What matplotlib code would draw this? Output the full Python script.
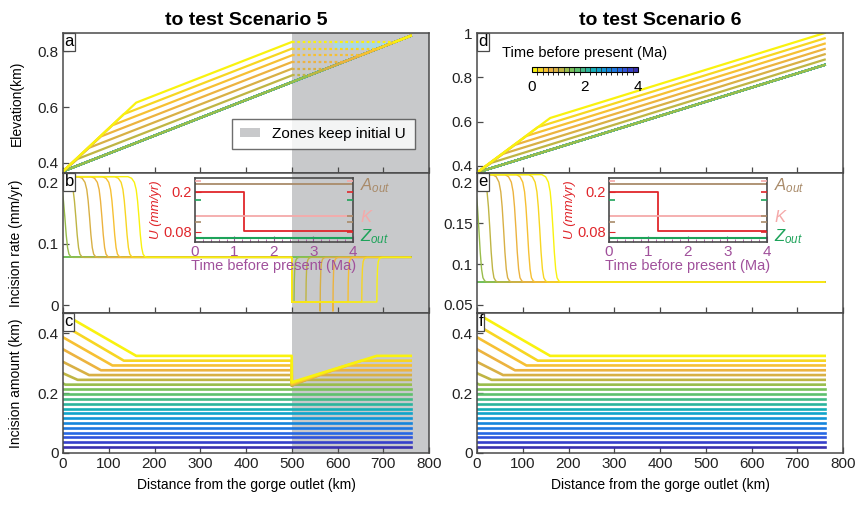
import numpy as np
import matplotlib
matplotlib.use("Agg")
import matplotlib.pyplot as plt
from matplotlib.colors import LinearSegmentedColormap, ListedColormap, BoundaryNorm
from matplotlib.cm import ScalarMappable
from matplotlib.patches import Patch

plt.rcParams['font.family'] = ['Liberation Sans', 'DejaVu Sans']
plt.rcParams['mathtext.fontset'] = 'custom'
plt.rcParams['mathtext.it'] = 'Liberation Sans:italic'
plt.rcParams['mathtext.rm'] = 'Liberation Sans'

# snapshot times (Ma before present), one profile per snapshot
times = [0.0, 0.2, 0.4, 0.6, 0.8, 1.0, 1.2, 1.4, 1.6, 1.8,
         2.0, 2.2, 2.4, 2.6, 2.8, 3.0, 3.2, 3.4, 3.6, 3.8]
# far-field incision amount (km) for every snapshot
far_incision = [0.324, 0.308, 0.292, 0.276, 0.260, 0.244, 0.228, 0.212, 0.196, 0.180,
                0.164, 0.148, 0.132, 0.116, 0.100, 0.084, 0.068, 0.052, 0.036, 0.020]

# the first 7 snapshots (after the U change at 1.25 Ma) carry a knickpoint
outlet_incision = [0.465, 0.427, 0.386, 0.346, 0.304, 0.266, 0.232]
knick_km = [160, 133, 108, 83, 57, 32, 5]
rate_drop_km = [166, 137, 110, 85, 58, 28, 4]
end_elev = [1.0, 0.976, 0.952, 0.928, 0.904, 0.880, 0.856]

outlet_elev = 0.37
initial_end_elev = 0.856
river_end_km = 760
rate_plateau = 0.21
rate_base = 0.078

# scenario 5: zone beyond 500 km keeps initial U
zone_start_km = 500
zone_refill_km = [686, 653, 623, 590, 562, 531, 505]
zone_low_incision = [0.236, 0.233, 0.231, 0.229, 0.227, 0.225, 0.224]
zone_flat_rate = 0.005
zone_dip_rate = [0.005, 0.005, 0.005, -0.010, -0.010, 0.005, 0.005]

# knickpoint shape in rate profile (km offset, fraction)
drop_dx = [-24, -16, -10, -6, -3, 0, 3, 6, 9, 13, 18]
drop_f = [1.0, 0.98, 0.93, 0.84, 0.70, 0.50, 0.28, 0.12, 0.04, 0.01, 0.0]
rise_dx = [0, 0.5, 1.5, 3, 5, 8, 12]
rise_f = [0, 0.45, 0.75, 0.9, 0.96, 0.99, 1.0]

# inset: uplift history and other parameters
U_time = [0, 1.25, 4]
U_val = [0.2, 0.083, 0.083]
A_out_level = 0.223
K_level = 0.126
Z_out_level = 0.060

# parula-like colours as seen in the figure (position, colour)
cmap = LinearSegmentedColormap.from_list("parula_like", [
    (0.00, "#352A87"), (0.05, "#3A30B0"), (0.12, "#3448D8"), (0.20, "#2668E4"),
    (0.30, "#1486DC"), (0.38, "#0FA0D2"), (0.45, "#14AEB8"), (0.52, "#33B694"),
    (0.60, "#5EC06D"), (0.68, "#88C14F"), (0.75, "#BDB544"), (0.82, "#E3AE45"),
    (0.88, "#F5B73A"), (0.95, "#F7D423"), (1.00, "#F9F20F")])

GRAY = "#C8C9CB"
FRAME = "#4a4a4a"
PURPLE = "#A0509B"
RED = "#E0262B"
BROWN = "#A98B6A"
PINK = "#F5A9A9"
GREEN = "#1EA35A"


def tcolor(t):
    return cmap(1 - t / 4.0)


n_recent = len(outlet_incision)
slope = (initial_end_elev - outlet_elev) / river_end_km
order = list(range(len(times)))[::-1]   # oldest drawn first, newest on top


def draw_elev(ax, zone):
    for i in order:
        c = tcolor(times[i])
        if i >= n_recent:
            ax.plot([0, river_end_km], [outlet_elev, initial_end_elev], color=c, lw=1.6)
            continue
        kp = knick_km[i]
        ek = end_elev[i] - slope * (river_end_km - kp)
        if not zone:
            ax.plot([0, kp, river_end_km], [outlet_elev, ek, end_elev[i]], color=c, lw=1.6)
            continue
        e500 = end_elev[i] - slope * (river_end_km - zone_start_km)
        x_int = (e500 - outlet_elev) / slope
        ax.plot([0, kp, zone_start_km], [outlet_elev, ek, e500], color=c, lw=1.6)
        ax.plot([x_int, river_end_km], [e500, initial_end_elev], color=c, lw=1.6)
        if i == 1:
            x0 = 590
            e0 = end_elev[0] - slope * (river_end_km - zone_start_km)
            xi0 = (e0 - outlet_elev) / slope
            ax.fill_between([x0, x_int, xi0], [e500, e500, e0], [e0, e0, e0],
                            color="#A9D8E6", lw=0, zorder=1.5)
        ax.plot([zone_start_km, x_int], [e500, e500], color=c, lw=1.6,
                ls=(0, (1.2, 1.2)), zorder=2.5)


def draw_rate(ax, zone):
    for i in order:
        c = tcolor(times[i])
        if i >= n_recent:
            ax.plot([0, river_end_km], [rate_base, rate_base], color=c, lw=1.2)
            continue
        d = rate_drop_km[i]
        xs = [-40] + [d + dx for dx in drop_dx]
        ys = [rate_plateau] + [rate_base + (rate_plateau - rate_base) * f for f in drop_f]
        if zone:
            q = zone_refill_km[i]
            dip = zone_dip_rate[i]
            xs += [zone_start_km, zone_start_km, q, q] + [q + dx for dx in rise_dx]
            ys += [rate_base, zone_flat_rate, zone_flat_rate, dip] + \
                  [dip + (rate_base - dip) * f for f in rise_f]
        xs += [river_end_km]
        ys += [rate_base]
        ax.plot(xs, ys, color=c, lw=1.0)


def draw_incision(ax, zone):
    for i in order:
        c = tcolor(times[i])
        far = far_incision[i]
        if i >= n_recent:
            ax.plot([0, river_end_km], [far, far], color=c, lw=1.9)
            continue
        kp = knick_km[i]
        if zone:
            q = zone_refill_km[i]
            xs = [0, kp, zone_start_km, zone_start_km, q, river_end_km]
            ys = [outlet_incision[i], far, far, zone_low_incision[i], far, far]
        else:
            xs = [0, kp, river_end_km]
            ys = [outlet_incision[i], far, far]
        ax.plot(xs, ys, color=c, lw=1.9)


def spine_tick(ax, side, y, color):
    x = 0 if side == "left" else 1
    mk = 1 if side == "left" else 0
    ax.plot([x], [y], marker=mk, ms=4, mew=1.2, color=color,
            transform=ax.get_yaxis_transform(), clip_on=False, zorder=5)


def draw_inset(rect):
    ax = fig.add_axes(rect)
    ax.set_facecolor("none")
    ax.plot(U_time, U_val, drawstyle="steps-post", color=RED, lw=1.3)
    ax.plot([0, 4], [A_out_level] * 2, color=BROWN, lw=1.3)
    ax.plot([0, 4], [K_level] * 2, color=PINK, lw=1.3)
    ax.plot([0, 4], [Z_out_level] * 2, color=GREEN, lw=1.5)
    ax.set_xlim(0, 4)
    ax.set_ylim(0.049, 0.241)
    ax.set_xticks([0, 1, 2, 3, 4])
    ax.set_xticks(np.arange(0, 4.01, 0.2), minor=True)
    ax.set_yticks([0.08, 0.2])
    ax.set_yticklabels(["0.08", "0.2"])
    ax.tick_params(axis="x", which="both", direction="in", colors=PURPLE,
                   labelsize=11, pad=2, top=False)
    ax.tick_params(axis="x", which="major", length=4)
    ax.tick_params(axis="x", which="minor", length=2.5)
    ax.tick_params(axis="y", direction="in", colors=RED, labelsize=10.5, pad=2, length=4)
    for s in ax.spines.values():
        s.set_color(FRAME)
        s.set_linewidth(1.2)
    ax.set_xlabel("Time before present (Ma)", color=PURPLE, fontsize=10.5, labelpad=0)
    ax.set_ylabel("U (mm/yr)", color=RED, fontsize=9.5, style="italic", labelpad=1)
    for y, c in [(0.232, PINK), (0.175, GREEN), (0.11, BROWN)]:
        spine_tick(ax, "left", y, c)
    for y, c in [(0.232, PINK), (0.2, RED), (0.175, GREEN), (0.128, BROWN),
                 (0.11, BROWN), (0.08, RED)]:
        spine_tick(ax, "right", y, c)
    ax.text(1.045, 0.875, r"$A_{out}$", color=BROWN, fontsize=12,
            transform=ax.transAxes, va="center", ha="left")
    ax.text(1.045, 0.39, r"$K$", color=PINK, fontsize=12,
            transform=ax.transAxes, va="center", ha="left")
    ax.text(1.045, 0.08, r"$Z_{out}$", color=GREEN, fontsize=12,
            transform=ax.transAxes, va="center", ha="left")
    return ax


fig = plt.figure(figsize=(8.62, 5.05), dpi=100)
col_left = [63 / 862, 477 / 862]
ax_w = 366 / 862
row_bottom = [1 - 173 / 505, 1 - 313 / 505, 1 - 453 / 505]
ax_h = 140 / 505

panel_letters = [["a", "b", "c"], ["d", "e", "f"]]
ylims = [[(0.364, 0.866), (-0.013, 0.216), (0, 0.467)],
         [(0.368, 1.0), (0.04, 0.212), (0, 0.467)]]
yticks = [[[0.4, 0.6, 0.8], [0, 0.1, 0.2], [0, 0.2, 0.4]],
          [[0.4, 0.6, 0.8, 1.0], [0.05, 0.1, 0.15, 0.2], [0, 0.2, 0.4]]]
ylabels = ["Elevation(km)", "Incision rate (mm/yr)", "Incision amount (km)"]
titles = ["to test Scenario 5", "to test Scenario 6"]

for col in range(2):
    zone = col == 0
    for row in range(3):
        ax = fig.add_axes([col_left[col], row_bottom[row], ax_w, ax_h])
        if zone:
            ax.axvspan(zone_start_km, 800, color=GRAY, lw=0, zorder=0)
        [draw_elev, draw_rate, draw_incision][row](ax, zone)
        ax.set_xlim(0, 800)
        ax.set_ylim(*ylims[col][row])
        ax.set_yticks(yticks[col][row])
        ax.set_yticklabels(["%g" % v for v in yticks[col][row]])
        ax.set_xticks(range(0, 801, 100))
        ax.tick_params(direction="in", length=4, width=0.9, color=FRAME,
                       labelsize=11, labelcolor="#222222", pad=3)
        if row < 2:
            ax.tick_params(labelbottom=False)
        else:
            ax.set_xlabel("Distance from the gorge outlet (km)", fontsize=10, labelpad=5)
        for s in ax.spines.values():
            s.set_color(FRAME)
            s.set_linewidth(1.1)
            s.set_zorder(6)
        if col == 0:
            ax.set_ylabel(ylabels[row], fontsize=10)
            ax.yaxis.set_label_coords(-0.108, 0.5)
        if row == 0:
            ax.set_title(titles[col], fontsize=14, fontweight="bold", pad=6)
        ax.text(0.004, 0.99, panel_letters[col][row], transform=ax.transAxes,
                va="top", ha="left", fontsize=12, zorder=7,
                bbox=dict(boxstyle="square,pad=0.08", fc="white", ec=FRAME, lw=0.9))
        if zone and row == 0:
            leg = ax.legend(handles=[Patch(facecolor=GRAY, label="Zones keep initial U")],
                            loc="center", bbox_to_anchor=(0.711, 0.279), fontsize=11,
                            frameon=True, fancybox=False, edgecolor=FRAME,
                            handlelength=1.3, handleheight=0.45, borderpad=0.55)
            leg.get_frame().set_linewidth(1.0)
            leg.set_zorder(8)

# insets
draw_inset([195 / 862, 1 - 242 / 505, 158 / 862, 64 / 505])
draw_inset([609 / 862, 1 - 242 / 505, 158 / 862, 64 / 505])

# colorbar in panel d
cax = fig.add_axes([532 / 862, 1 - 71.7 / 505, 106 / 862, 5 / 505])
cmap_disc = ListedColormap([tcolor(t) for t in times])
norm = BoundaryNorm(times + [4.0], cmap_disc.N)
cb = fig.colorbar(ScalarMappable(norm=norm, cmap=cmap_disc), cax=cax,
                  orientation="horizontal", drawedges=True, ticks=[0, 2, 4])
cb.ax.set_xticklabels(["0", "2", "4"])
cb.dividers.set_color("#333333")
cb.dividers.set_linewidth(0.6)
cb.outline.set_linewidth(0.8)
cax.tick_params(length=0, labelsize=11, pad=6)
fig.text(585 / 862, 1 - 53 / 505, "Time before present (Ma)", ha="center",
         va="center", fontsize=10.5)

fig.savefig("out.png", dpi=100)
